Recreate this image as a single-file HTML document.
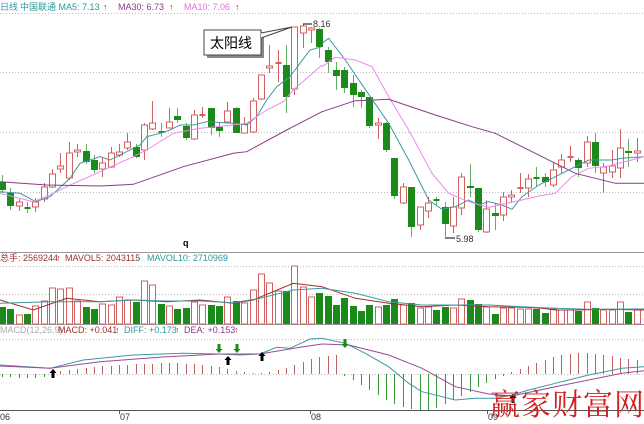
<!DOCTYPE html>
<html><head><meta charset="utf-8">
<style>
html,body{margin:0;padding:0;background:#fff;width:644px;height:424px;overflow:hidden}
svg{display:block}
text{font-family:"Liberation Sans","Noto Sans CJK SC",sans-serif;font-size:9px}
</style></head><body>
<svg id="s" width="644" height="424" viewBox="0 0 644 424" xmlns="http://www.w3.org/2000/svg">
<g stroke="#bbb" stroke-dasharray="1,2" stroke-width="1">
<line x1="0" y1="13.5" x2="644" y2="13.5"/><line x1="0" y1="72.5" x2="644" y2="72.5"/>
<line x1="0" y1="132.5" x2="644" y2="132.5"/><line x1="0" y1="192.5" x2="644" y2="192.5"/>
<line x1="0" y1="266.5" x2="644" y2="266.5"/><line x1="0" y1="294.5" x2="644" y2="294.5"/>
<line x1="0" y1="339.5" x2="644" y2="339.5"/><line x1="0" y1="374.5" x2="644" y2="374.5"/>
</g>
<line x1="0" y1="252.5" x2="644" y2="252.5" stroke="#999"/>
<line x1="0" y1="324.5" x2="644" y2="324.5" stroke="#999"/>
<line x1="0" y1="410.5" x2="644" y2="410.5" stroke="#555"/>
<g id="g"></g>
<text x="0" y="10" fill="#3a8fb0">日线</text>
<text x="20" y="10" fill="#2a9a9a">中国联通 MA5: 7.13</text><text x="103" y="10" fill="#c02020">↑</text>
<text x="118" y="10" fill="#8a3a8a">MA30: 6.73</text><text x="169" y="10" fill="#c02020">↑</text>
<text x="184" y="10" fill="#e070e0">MA10: 7.06</text><text x="235" y="10" fill="#c02020">↑</text>
<text x="0" y="261" fill="#a03030">总手: 2569244</text><text x="56" y="261" fill="#c02020">↑</text>
<text x="65" y="261" fill="#a03030">MAVOL5: 2043115</text><text x="136" y="261" fill="#40c0e0">↓</text>
<text x="147" y="261" fill="#2a9a9a">MAVOL10: 2710969</text><text x="222" y="261" fill="#40c0e0">↓</text>
<text x="0" y="333" fill="#aaa">MACD(12,26,9)</text>
<text x="58" y="333" fill="#a03030">MACD: +0.041</text><text x="115" y="333" fill="#c02020">↑</text>
<text x="124" y="333" fill="#2a9a9a">DIFF: +0.173</text><text x="175" y="333" fill="#c02020">↑</text>
<text x="184" y="333" fill="#8a3a8a">DEA: +0.153</text><text x="234" y="333" fill="#c02020">↑</text>
<text x="183" y="246" fill="#000" font-weight="bold">q</text>
<text x="0" y="420" fill="#333">06</text><text x="120" y="420" fill="#333">07</text>
<text x="311" y="420" fill="#333">08</text><text x="488" y="420" fill="#333">09</text>
<g stroke="#555"><line x1="119.5" y1="410" x2="119.5" y2="414"/><line x1="310.5" y1="410" x2="310.5" y2="414"/><line x1="487.5" y1="410" x2="487.5" y2="414"/></g>
<rect x="207" y="33" width="57" height="25" fill="#888"/>
<rect x="204" y="30" width="57" height="25" fill="#fff" stroke="#444"/>
<text x="210" y="48" style="font-size:14px" fill="#000">太阳线</text>
<polyline points="261,33 292,27 261,38" fill="#fff" stroke="#444"/>
<line x1="303" y1="24" x2="312" y2="24" stroke="#000"/><text x="313" y="27" fill="#333">8.16</text>
<line x1="445" y1="238" x2="455" y2="238" stroke="#000"/><text x="456" y="242" fill="#333">5.98</text>
<text x="490" y="415" fill="#d02020" style="font-family:'Noto Serif CJK SC',serif;font-size:30px;letter-spacing:1px">赢家财富网</text>
</svg>
<script>
const C=[[182,190,175,193,'g'],[193,206,188,210,'g'],[202,206,199,211,'r'],[208,208,202,213,'g'],[202,207,198,212,'r'],[187,199,183,202,'r'],[174,187,169,188,'r'],[166,169,153,173,'r'],[153,178,142,180,'r'],[150,152,144,157,'r'],[151,162,144,164,'g'],[160,170,155,173,'g'],[163,169,157,177,'r'],[153,167,147,168,'r'],[152,155,144,157,'r'],[142,148,133,150,'r'],[147,157,144,158,'g'],[125,150,123,160,'r'],[123,129,101,130,'r'],[132,132,123,137,'g'],[122,128,108,128,'r'],[116,120,108,123,'g'],[126,138,123,140,'g'],[115,139,110,140,'r'],[115,115,107,118,'r'],[108,128,108,135,'g'],[127,131,122,137,'g'],[111,122,102,123,'r'],[108,133,107,133,'g'],[124,133,117,133,'r'],[101,132,98,133,'r'],[75,99,75,100,'r'],[66,68,45,73,'r'],[63,64,50,82,'r'],[65,97,45,113,'g'],[27,89,27,95,'r'],[26,33,24,48,'r'],[28,30,27,43,'r'],[29,47,28,58,'g'],[50,62,47,73,'g'],[70,76,62,90,'g'],[70,88,67,93,'g'],[83,95,75,107,'g'],[92,97,90,108,'g'],[97,126,97,128,'g'],[123,125,118,139,'r'],[123,150,122,152,'g'],[158,196,158,199,'g'],[187,203,183,204,'r'],[187,227,187,237,'g'],[207,225,207,230,'r'],[203,211,197,218,'r'],[200,200,197,205,'g'],[207,224,202,237,'g'],[207,226,197,233,'r'],[177,208,173,215,'r'],[186,188,164,197,'g'],[188,230,188,232,'g'],[209,232,200,233,'r'],[213,216,203,230,'g'],[197,215,192,221,'r'],[195,197,190,203,'r'],[188,188,173,193,'r'],[179,188,174,197,'r'],[178,178,167,187,'g'],[177,182,173,187,'g'],[170,185,163,187,'r'],[160,167,154,173,'r'],[157,157,146,162,'r'],[160,168,158,177,'g'],[142,163,136,167,'r'],[142,166,133,173,'g'],[167,173,163,193,'r'],[166,172,150,178,'r'],[148,168,129,178,'r'],[151,153,139,167,'g'],[151,153,138,162,'r']];
const V=[307,309,315,314,306,301,288,289,288,301,307,309,304,305,297,300,302,281,285,304,306,309,308,302,305,305,306,297,301,303,290,274,283,291,291,266,287,297,293,296,305,298,306,311,305,307,305,299,305,303,308,307,310,307,308,299,300,304,307,314,308,308,309,309,309,313,309,310,310,311,302,308,310,310,302,312,310];
let h='';const G='#1a8a1a',R='#d06060';
C.forEach((c,i)=>{const x=Math.round(2+i*8.35)+.5;const top=Math.min(c[0],c[1]),bot=Math.max(c[0],c[1]);const col=c[4]=='g'?G:R;
h+=`<line x1="${x}" y1="${c[2]}" x2="${x}" y2="${c[3]}" stroke="${c[4]=='g'?'#60b060':R}"/>`;
if(bot-top<2)h+=`<line x1="${x-3}" y1="${top}" x2="${x+3}" y2="${top}" stroke="${col}" stroke-width="2"/>`;
else if(c[4]=='g')h+=`<rect x="${x-3.5}" y="${top}" width="7" height="${bot-top}" fill="${G}"/>`;
else h+=`<rect x="${x-3}" y="${top}" width="6" height="${bot-top}" fill="#fff" stroke="${R}"/>`;
const v=V[i];if(v!==undefined){if(c[4]=='g')h+=`<rect x="${x-3.5}" y="${v}" width="7" height="${324-v}" fill="${G}"/>`;else h+=`<rect x="${x-3}" y="${v}" width="6" height="${324-v}" fill="#fff" stroke="${R}"/>`;}
});
function pl(a,ox,oy,col,w){let p=[];for(let i=0;i<a.length;i+=2)p.push((ox+a[i]/3).toFixed(1)+','+(oy+a[i+1]/3).toFixed(1));h+=`<polyline points="${p.join(' ')}" fill="none" stroke="${col}" stroke-width="${w||1}"/>`;}
pl([0,575,60,580,108,605,150,590,210,535,240,490,300,470,330,480,420,435,440,410,480,400,510,390,540,375,580,375,620,365,700,370,740,375,770,350,800,300,830,260,870,230,900,190,930,150,966,140],0,0,'#3a9aa0');
pl([0,130,20,115,70,180,145,290,200,370,260,480,320,600,360,628,400,620,440,600,470,615,500,605,540,615,570,628,600,590,650,555,700,530,750,505,800,480,870,480,900,475,966,470],322,0,'#3a9aa0');
pl([0,580,100,605,150,585,200,560,300,515,400,470,440,450,520,400,600,385,700,375,740,370,800,330,850,305,880,270,966,195],0,0,'#ee88ee');
pl([0,200,40,172,100,180,150,200,200,290,260,390,330,520,380,580,440,605,500,622,600,600,650,588,700,580,750,530,800,505,860,498,966,470],322,0,'#ee88ee');
pl([0,545,140,555,300,558,400,553,550,500,700,460,740,455,860,390,966,335],0,0,'#8a3a8a');
pl([0,335,100,302,200,298,340,345,450,380,520,400,640,460,760,520,880,550,966,550],322,0,'#8a3a8a');
pl([0,180,100,210,200,175,300,185,400,180,500,185,600,180,700,190,760,180,880,130,966,140],0,240,'#a03030');
pl([0,140,100,175,200,190,300,200,400,195,500,200,600,202,660,205,700,210,760,210,870,208,966,210],322,240,'#a03030');
pl([0,190,150,185,300,185,400,180,500,183,600,183,700,188,780,175,880,150,966,145],0,240,'#3a9aa0');
pl([0,145,100,160,200,185,300,195,400,195,500,195,600,200,700,205,800,208,966,207],322,240,'#3a9aa0');
const M=[-3,-3,-4,-4,-4,-3,
2,3,4,5,6,7,8,8,9,9,10,10,10,11,11,11,10,10,9,8,7,5,3,2,1,1,2,4,6,9,12,15,17,18,19,
-2,-6,-11,-16,-21,-26,-30,-33,-35,-36,-36,-34,-30,-26,-22,-18,-13,-9,-5,-2,
2,5,8,11,14,17,19,20,21,21,20,19,18,16,15,14,13];
C.forEach((c,i)=>{const x=Math.round(2+i*8.35)+.5;const m=M[i];if(m<0)h+=`<line x1="${x}" y1="374" x2="${x}" y2="${374-m}" stroke="#3a9a3a"/>`;else if(m>0)h+=`<line x1="${x}" y1="${374-m}" x2="${x}" y2="374" stroke="#c06060"/>`;});
pl([0,375,150,385,250,360,400,345,550,340,660,342,720,345,780,342,830,322,870,325,930,297,966,295],0,240,'#3a9aa0');
pl([0,295,70,310,130,340,200,380,260,430,300,455,400,480,460,475,520,475,570,465,620,450,700,430,800,405,900,385,966,380],322,240,'#3a9aa0');
pl([0,378,150,385,300,365,500,350,660,342,780,342,900,322,966,312],0,240,'#9a4a9a');
pl([0,312,80,315,200,345,300,385,400,440,500,462,570,468,700,440,800,420,900,400,966,392],322,240,'#9a4a9a');
function up(x,y){h+=`<path d="M${x},${y} l-3.5,4 h2 v5 h3 v-5 h2 z" fill="#000"/>`;}
function dn(x,y){h+=`<path d="M${x},${y} l-3.5,-4 h2 v-5 h3 v5 h2 z" fill="#1a8a1a"/>`;}
up(53,369);up(228,356);up(262,352);up(513,394);dn(219,353);dn(237,353);dn(345,348);
document.getElementById('g').innerHTML=h;
</script>
</body></html>
